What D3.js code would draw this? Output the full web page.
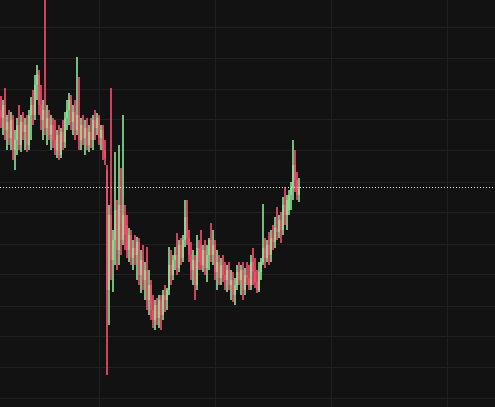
<!DOCTYPE html>
<html>
<head>
<meta charset="utf-8">
<script src="https://cdn.jsdelivr.net/npm/d3@7/dist/d3.min.js"></script>
<style>
  html, body { margin: 0; padding: 0; background: #121212; overflow: hidden; }
  svg { display: block; }
</style>
</head>
<body>
<svg id="chart" width="495" height="407"></svg>
<script>
// candle data, one entry per bar (index = bar number)
var opens = [
  2.97,2.89,3.02,2.77,2.85,2.69,2.87,2.57,2.67,2.82,
  2.62,2.85,2.75,2.82,2.62,2.92,3.02,2.92,3.22,3.32,
  3.02,2.87,2.97,2.79,2.89,2.72,2.82,2.67,2.57,2.72,
  2.52,2.75,2.65,2.89,2.97,3.07,2.85,2.95,2.77,2.92,
  2.67,2.82,2.69,2.79,2.62,2.75,2.67,2.87,2.79,2.89,
  2.69,2.77,2.57,2.37,1.17,1.92,1.47,1.67,1.97,1.57,
  2.02,1.67,1.92,1.82,1.57,1.72,1.49,1.59,1.52,1.65,
  1.32,1.47,1.27,1.37,1.07,1.22,0.97,0.87,1.02,0.89,
  1.07,0.92,1.12,1.07,1.17,1.42,1.32,1.47,1.52,1.39,
  1.62,1.49,1.67,1.90,1.69,1.52,1.37,1.47,1.22,1.59,
  1.62,1.42,1.57,1.39,1.52,1.67,1.52,1.62,1.35,1.45,
  1.29,1.42,1.32,1.27,1.37,1.22,1.27,1.12,1.22,1.35,
  1.27,1.37,1.17,1.32,1.29,1.22,1.45,1.35,1.25,1.17,
  1.35,1.45,1.59,1.49,1.62,1.52,1.69,1.65,1.79,1.75,
  1.87,1.77,2.02,1.92,1.97,2.12,2.19,2.42,2.27,2.12
];
var highs = [
  3.11,3.07,3.19,2.92,2.97,2.95,2.92,2.77,2.89,3.02,
  2.92,2.95,2.89,2.92,2.97,3.10,3.17,3.32,3.42,3.37,
  3.22,3.07,4.07,3.02,2.97,2.92,2.89,2.87,2.77,2.82,
  2.79,2.87,2.95,3.07,3.14,3.12,3.02,3.07,3.50,3.30,
  2.89,2.92,2.87,2.89,2.82,2.89,2.92,2.97,2.94,2.92,
  2.82,2.82,2.67,2.42,2.02,3.19,1.77,2.55,2.07,2.62,
  2.39,2.92,2.02,1.92,1.79,1.77,1.67,1.72,1.70,1.69,
  1.57,1.62,1.45,1.60,1.37,1.27,1.12,1.07,1.09,1.12,
  1.12,1.17,1.22,1.19,1.60,1.57,1.52,1.60,1.74,1.67,
  1.69,1.72,2.07,2.07,1.77,1.65,1.57,1.52,1.72,1.67,
  1.77,1.62,1.67,1.62,1.69,1.84,1.77,1.67,1.57,1.52,
  1.49,1.52,1.45,1.42,1.45,1.37,1.35,1.29,1.42,1.45,
  1.42,1.45,1.39,1.45,1.42,1.52,1.59,1.49,1.37,1.45,
  1.49,2.03,1.69,1.67,1.75,1.77,1.82,1.90,2.00,1.92,
  1.95,2.10,2.20,2.12,2.17,2.25,2.67,2.57,2.35,2.29
];
var lows = [
  2.79,2.72,2.67,2.57,2.62,2.57,2.47,2.37,2.52,2.57,
  2.55,2.67,2.57,2.55,2.57,2.67,2.82,2.87,3.07,2.92,
  2.77,2.67,2.72,2.62,2.67,2.57,2.59,2.52,2.49,2.47,
  2.49,2.57,2.59,2.77,2.82,2.77,2.72,2.67,2.72,2.57,
  2.57,2.62,2.52,2.57,2.55,2.59,2.57,2.67,2.72,2.62,
  2.57,2.47,2.42,0.32,0.82,1.27,1.15,1.42,1.37,1.42,
  1.52,1.62,1.57,1.49,1.45,1.42,1.37,1.42,1.27,1.22,
  1.14,1.17,1.07,0.97,0.92,0.87,0.79,0.77,0.82,0.79,
  0.77,0.87,0.95,0.97,1.12,1.22,1.27,1.37,1.32,1.35,
  1.42,1.45,1.60,1.62,1.45,1.27,1.22,1.07,1.17,1.37,
  1.37,1.35,1.32,1.25,1.37,1.45,1.42,1.27,1.17,1.22,
  1.22,1.25,1.17,1.15,1.17,1.07,1.05,1.02,1.17,1.22,
  1.12,1.07,1.12,1.22,1.17,1.17,1.22,1.19,1.14,1.15,
  1.27,1.42,1.39,1.45,1.42,1.45,1.57,1.59,1.67,1.69,
  1.64,1.72,1.82,1.77,1.92,1.97,2.07,2.15,2.07,2.05
];
var closes = [
  2.89,3.02,2.77,2.85,2.69,2.87,2.57,2.67,2.82,2.62,
  2.85,2.75,2.82,2.62,2.92,3.02,2.92,3.22,3.32,3.02,
  2.87,2.97,2.79,2.89,2.72,2.82,2.67,2.57,2.72,2.52,
  2.75,2.65,2.89,2.97,3.07,2.85,2.95,2.77,2.92,2.67,
  2.82,2.69,2.79,2.62,2.75,2.67,2.87,2.79,2.89,2.69,
  2.77,2.57,2.49,1.17,1.92,1.47,1.67,1.97,1.57,2.02,
  1.67,1.92,1.72,1.57,1.72,1.49,1.59,1.52,1.65,1.32,
  1.47,1.27,1.37,1.07,1.22,0.97,0.87,1.02,0.89,1.07,
  0.92,1.12,1.07,1.17,1.42,1.32,1.47,1.52,1.39,1.62,
  1.49,1.67,1.90,1.69,1.52,1.37,1.47,1.22,1.59,1.45,
  1.42,1.57,1.39,1.52,1.67,1.52,1.62,1.35,1.45,1.29,
  1.42,1.32,1.27,1.37,1.22,1.27,1.12,1.22,1.35,1.27,
  1.37,1.17,1.32,1.29,1.22,1.45,1.35,1.25,1.17,1.35,
  1.45,1.59,1.49,1.62,1.52,1.69,1.65,1.79,1.75,1.87,
  1.77,2.02,1.92,2.07,2.12,2.19,2.42,2.27,2.12,2.20
];

// grid positions: price levels and bar indices
var gridPrices = [0.09,0.40,0.71,1.01,1.33,1.63,1.95,2.25,2.57,2.88,3.18,3.49,3.80];
var gridBars = [49,107,165,223];

var upColor = "#8ad890",
    downColor = "#ee4b6c",
    gridColor = "#202020",
    bgColor = "#121212";

var W = 495, H = 407;

var svg = d3.select("#chart");

//background
svg.append("rect")
  .attr("width", W).attr("height", H)
  .attr("fill", bgColor);

//scales: bar index -> left pixel of bar, price -> y
var x = d3.scaleLinear().domain([0, 247]).range([0, 494]);
var y = d3.scaleLinear().domain([0, 4.07]).range([H, 0]);

//grid lines
svg.append("g").selectAll("line.h")
  .data(gridPrices)
  .enter().append("line")
  .attr("x1", 0).attr("x2", W)
  .attr("y1", function(d){ return Math.round(y(d)) + 0.5; })
  .attr("y2", function(d){ return Math.round(y(d)) + 0.5; })
  .attr("stroke", gridColor)
  .attr("stroke-width", 1);

svg.append("g").selectAll("line.v")
  .data(gridBars)
  .enter().append("line")
  .attr("y1", 0).attr("y2", H)
  .attr("x1", function(d){ return Math.round(x(d)) + 1.5; })
  .attr("x2", function(d){ return Math.round(x(d)) + 1.5; })
  .attr("stroke", gridColor)
  .attr("stroke-width", 1);

//build bars from the arrays
var bars = opens.map(function(o, i){
  return { i: i, o: o, h: highs[i], l: lows[i], c: closes[i] };
});

function barColor(d){ return d.c >= d.o ? upColor : downColor; }

var g = svg.append("g").attr("shape-rendering", "crispEdges");

//wicks
var wickW = 2;
g.selectAll("rect.wick")
  .data(bars)
  .enter().append("rect")
  .attr("class", "wick")
  .attr("x", function(d){ return Math.round(x(d.i)); })
  .attr("width", wickW)
  .attr("y", function(d){ return Math.round(y(d.h)); })
  .attr("height", function(d){ return Math.max(1, Math.round(y(d.l)) - Math.round(y(d.h))); })
  .attr("fill", barColor)
  .attr("fill-opacity", 0.85);

//bodies
g.selectAll("rect.body")
  .data(bars)
  .enter().append("rect")
  .attr("class", "body")
  .attr("x", function(d){ return Math.round(x(d.i)); })
  .attr("width", 2)
  .attr("y", function(d){ return Math.round(y(Math.max(d.o, d.c))); })
  .attr("height", function(d){ return Math.max(1, Math.round(Math.abs(y(d.o) - y(d.c)))); })
  .attr("fill", barColor);

//last price line (dotted)
var last = bars[bars.length - 1];
var ly = Math.round(y(last.c)) + 0.5;
svg.append("line")
  .attr("x1", 0).attr("x2", W)
  .attr("y1", ly).attr("y2", ly)
  .attr("stroke", "#d8eedb")
  .attr("stroke-width", 1)
  .attr("stroke-dasharray", "1,2");
</script>
</body>
</html>
